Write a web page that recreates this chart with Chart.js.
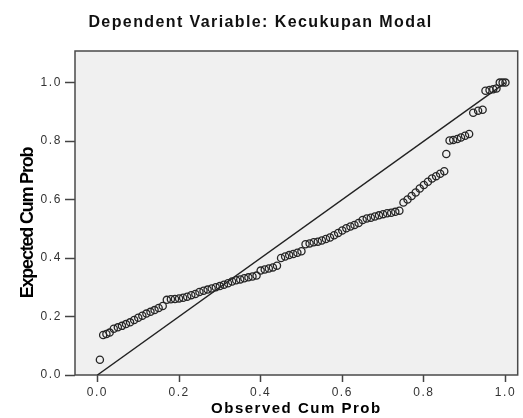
<!DOCTYPE html>
<html>
<head>
<meta charset="utf-8">
<title>Normal P-P Plot</title>
<script src="https://cdn.jsdelivr.net/npm/chart.js@4.4.1/dist/chart.umd.min.js"></script>
<style>
  body { margin: 0; background: #ffffff; }
  #wrap { width: 523px; height: 418px; position: relative; }
</style>
</head>
<body>
<div id="wrap"><canvas id="chart"></canvas></div>
<script>
// ================================
// DATA
// ================================

var observedCumProb = [
  0.006, 0.014, 0.022, 0.030, 0.040, 0.050, 0.060, 0.070, 0.080, 0.090,
  0.100, 0.110, 0.120, 0.130, 0.140, 0.150, 0.160, 0.170, 0.180, 0.190,
  0.200, 0.210, 0.220, 0.230, 0.240, 0.250, 0.260, 0.270, 0.280, 0.290,
  0.300, 0.310, 0.320, 0.330, 0.340, 0.350, 0.360, 0.370, 0.380, 0.390,
  0.400, 0.410, 0.420, 0.430, 0.440, 0.450, 0.460, 0.470, 0.480, 0.490,
  0.500, 0.510, 0.520, 0.530, 0.540, 0.550, 0.560, 0.570, 0.580, 0.590,
  0.600, 0.610, 0.620, 0.630, 0.640, 0.650, 0.660, 0.670, 0.680, 0.690,
  0.700, 0.710, 0.720, 0.730, 0.740, 0.750, 0.760, 0.770, 0.780, 0.790,
  0.800, 0.810, 0.820, 0.830, 0.840, 0.850, 0.855, 0.863, 0.872, 0.882,
  0.891, 0.901, 0.911, 0.921, 0.933, 0.944, 0.951, 0.961, 0.970, 0.978,
  0.986, 0.993, 1.000
];

var expectedCumProb = [
  0.052, 0.137, 0.140, 0.145, 0.158, 0.163, 0.168, 0.174, 0.180, 0.188,
  0.196, 0.203, 0.210, 0.216, 0.222, 0.229, 0.236, 0.257, 0.259, 0.260,
  0.262, 0.264, 0.268, 0.273, 0.277, 0.284, 0.288, 0.292, 0.296, 0.300,
  0.304, 0.309, 0.314, 0.320, 0.324, 0.327, 0.331, 0.334, 0.337, 0.340,
  0.357, 0.361, 0.364, 0.368, 0.374, 0.400, 0.405, 0.410, 0.414, 0.418,
  0.423, 0.447, 0.450, 0.454, 0.456, 0.460, 0.465, 0.470, 0.478, 0.486,
  0.494, 0.502, 0.508, 0.513, 0.520, 0.530, 0.535, 0.538, 0.542, 0.546,
  0.550, 0.553, 0.555, 0.558, 0.562, 0.590, 0.600, 0.612, 0.624, 0.638,
  0.650, 0.661, 0.672, 0.680, 0.688, 0.697, 0.756, 0.802, 0.804, 0.807,
  0.812, 0.818, 0.824, 0.897, 0.904, 0.907, 0.972, 0.975, 0.977, 0.980,
  1.000, 1.000, 1.000
];

// diagonal reference line
var refLineX = [0, 1];
var refLineY = [0, 1];

var xTicks = [0.0, 0.2, 0.4, 0.6, 0.8, 1.0];
var yTicks = [0.0, 0.2, 0.4, 0.6, 0.8, 1.0];

// ================================
// BUILD THE POINTS
// ================================

var points = [];
for (var i = 0; i < observedCumProb.length; i++) {
  points.push({ x: observedCumProb[i], y: expectedCumProb[i] });
}
var refPoints = [];
for (var j = 0; j < refLineX.length; j++) {
  refPoints.push({ x: refLineX[j], y: refLineY[j] });
}

// grey plot area with a dark frame (SPSS look)
var plotFrame = {
  id: "plotFrame",
  beforeDatasetsDraw: function (chart) {
    var a = chart.chartArea;
    var c = chart.ctx;
    c.save();
    c.fillStyle = "#f0f0f0";
    c.fillRect(a.left, a.top, a.right - a.left, a.bottom - a.top);
    c.strokeStyle = "#4a4a4a";
    c.lineWidth = 1.5;
    c.strokeRect(a.left, a.top, a.right - a.left, a.bottom - a.top);
    c.restore();
  }
};

// the SPSS text is drawn wide, so add some letter spacing per text block
function spaced(obj, name, spacing, shiftY) {
  if (!obj || obj["_sp_" + name]) return;
  var orig = obj[name];
  obj[name] = function () {
    var c = this.ctx;
    c.save();
    c.letterSpacing = spacing;
    if (shiftY) c.translate(0, shiftY);
    var r = orig.apply(this, arguments);
    c.restore();
    return r;
  };
  obj["_sp_" + name] = true;
}

var textSpacing = {
  id: "textSpacing",
  afterLayout: function (chart) {
    spaced(chart.titleBlock, "draw", "1.4px");
    spaced(chart.scales.x, "drawLabels", "1.5px");
    spaced(chart.scales.y, "drawLabels", "1.6px");
    spaced(chart.scales.x, "drawTitle", "1.5px");
    spaced(chart.scales.y, "drawTitle", "-1.2px", 10);
  }
};

function fixedTicks(list) {
  return function (scale) {
    scale.ticks = list.map(function (v) { return { value: v }; });
  };
}

// ================================
// DRAW THE CHART
// ================================

var ctx = document.getElementById("chart").getContext("2d");

var myChart = new Chart(ctx, {
  type: "scatter",
  data: {
    datasets: [
      {
        label: "Expected Cum Prob",
        data: points,
        pointStyle: "circle",
        pointRadius: 3.6,
        pointBorderWidth: 1.3,
        borderColor: "#262626",
        backgroundColor: "rgba(0,0,0,0)",
        order: 1
      },
      {
        label: "Reference",
        data: refPoints,
        showLine: true,
        pointRadius: 0,
        borderColor: "#222222",
        borderWidth: 1.4,
        order: 2
      }
    ]
  },
  options: {
    responsive: true,
    maintainAspectRatio: false,
    animation: false,
    layout: { padding: { left: 0, right: 2, top: 0, bottom: 0 } },
    plugins: {
      legend: { display: false },
      tooltip: { enabled: false },
      title: {
        display: true,
        text: "Dependent Variable: Kecukupan Modal",
        color: "#111111",
        font: { family: "Arial, 'Liberation Sans', sans-serif", size: 16, weight: "bold" },
        padding: { top: 13, bottom: 18.8 }
      }
    },
    scales: {
      x: {
        type: "linear",
        min: -0.055,
        max: 1.03,
        afterBuildTicks: fixedTicks(xTicks),
        afterFit: function (scale) { scale.height = 43; },
        grid: {
          drawOnChartArea: false,
          drawTicks: true,
          tickLength: 7,
          tickWidth: 1.5,
          tickColor: "#444444"
        },
        border: { display: false },
        ticks: {
          color: "#333333",
          padding: 3,
          maxRotation: 0,
          font: { family: "Arial, 'Liberation Sans', sans-serif", size: 12 },
          callback: function (v) { return Number(v).toFixed(1); }
        },
        title: {
          display: true,
          text: "Observed Cum Prob",
          color: "#000000",
          font: { family: "Arial, 'Liberation Sans', sans-serif", size: 15, weight: "bold" },
          padding: { top: 0, bottom: 0 }
        }
      },
      y: {
        type: "linear",
        min: 0,
        max: 1.108,
        afterBuildTicks: fixedTicks(yTicks),
        afterFit: function (scale) { scale.width = 75; },
        grid: {
          drawOnChartArea: false,
          drawTicks: true,
          tickLength: 10,
          tickWidth: 1.5,
          tickColor: "#444444"
        },
        border: { display: false },
        ticks: {
          color: "#333333",
          padding: 3,
          font: { family: "Arial, 'Liberation Sans', sans-serif", size: 12 },
          callback: function (v) { return Number(v).toFixed(1); }
        },
        title: {
          display: true,
          text: "Expected Cum Prob",
          color: "#000000",
          font: { family: "Arial, 'Liberation Sans', sans-serif", size: 18, weight: "bold" },
          padding: { top: 17, bottom: 0 }
        }
      }
    }
  },
  plugins: [plotFrame, textSpacing]
});
</script>
</body>
</html>
